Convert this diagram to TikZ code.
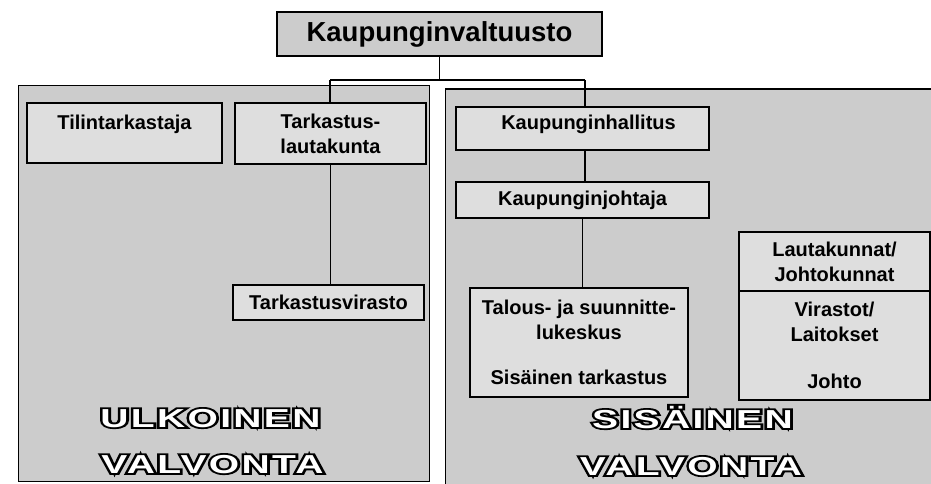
\documentclass[tikz,border=0pt]{standalone}
\usepackage{fontspec}
\usepackage{graphicx}
\setmainfont{Liberation Sans}
\newfontfamily\bigfam[LetterSpace=6]{Liberation Sans Bold}
\newfontfamily\bigfamout[LetterSpace=6, FakeBold=14]{Liberation Sans Bold}
\newcommand\boxfont{\bfseries\fontsize{20}{25}\selectfont}
\newcommand\titlefont{\bfseries\fontsize{27.5}{30}\selectfont}
\newcommand\bigfont{\bigfam\fontsize{26}{30}\selectfont}
\newcommand\bigfontout{\bigfamout\fontsize{26}{30}\selectfont}
\tikzset{
  panel/.style={draw=black, line width=0.8pt, fill=black!20},
  orgbox/.style={draw=black, line width=1.3pt, fill=black!13, inner sep=0pt, font=\boxfont, align=center},
  conn/.style={line width=1.4pt},
  bigtxt/.style={font=\bigfont, inner sep=0pt, anchor=base, text=white},
  bigout/.style={font=\bigfontout, inner sep=0pt, anchor=base, text=black},
}
\begin{document}
\begin{tikzpicture}[x=1pt,y=-1pt]
\clip (0,0) rectangle (931,484);
\fill[white] (0,0) rectangle (931,484);
% panels
\path[panel] (18,85) rectangle (429,481);
\path[panel] (445,89) rectangle (940,490);
\draw[line width=1.6pt] (445,89) -- (940,89);
% top box
\node[orgbox, fill=black!20, font=\titlefont, minimum width=325pt, minimum height=44pt] (top) at (439.5,34) {Kaupunginvaltuusto};
% left side
\node[orgbox, minimum width=195pt, minimum height=60pt, text height=14pt, text depth=20pt] (tilin) at (124.5,133) {Tilintarkastaja};
\node[orgbox, minimum width=191pt, minimum height=61pt] (tlk) at (330.5,133.5) {Tarkastus-\\lautakunta};
\node[orgbox, minimum width=191pt, minimum height=35pt] (tv) at (328.5,302.5) {Tarkastusvirasto};
% right side
\node[orgbox, minimum width=253pt, minimum height=43pt, text height=14pt, text depth=11pt] (kh) at (582.5,128.5) {\hspace*{12pt}Kaupunginhallitus};
\node[orgbox, minimum width=253pt, minimum height=36pt] (kj) at (582.5,200) {Kaupunginjohtaja};
\node[orgbox, minimum width=218pt, minimum height=109pt] (tal) at (579,342.5) {Talous- ja suunnitte-\\lukeskus\\[20pt]Sisäinen tarkastus};
\node[orgbox, minimum width=191pt, minimum height=59pt] (laut) at (834.5,261.5) {Lautakunnat/\\Johtokunnat};
\node[orgbox, minimum width=191pt, minimum height=109pt] (vir) at (834.5,345.5) {Virastot/\\Laitokset\\[22pt]Johto};
% connectors
\coordinate (jl) at (330,80);
\coordinate (jr) at (585,80);
\draw[conn] (top.south) -- (top.south |- jl);
\draw[conn] (jl) -- (jr);
\draw[conn] (jl) -- (jl |- tlk.north);
\draw[conn] (jr) -- (jr |- kh.north);
\draw[conn] (tlk.south) -- (tlk.south |- tv.north);
\draw[conn] (kh.south -| jr) -- (kj.north -| jr);
\draw[conn] (kj.south) -- (kj.south |- tal.north);
% outlined titles
\foreach \t/\px/\py/\nm in {ULKOINEN/210.5/427/ulk, VALVONTA/212.5/473/valva, SISÄINEN/692.5/428/sis, VALVONTA/691/475/valvb} {
  \node[bigout] (\nm o) at (\px,\py) {\scalebox{1.5}[1]{\t}};
  \node[bigtxt] (\nm) at (\px,\py) {\scalebox{1.5}[1]{\t}};
}
\end{tikzpicture}
\end{document}
